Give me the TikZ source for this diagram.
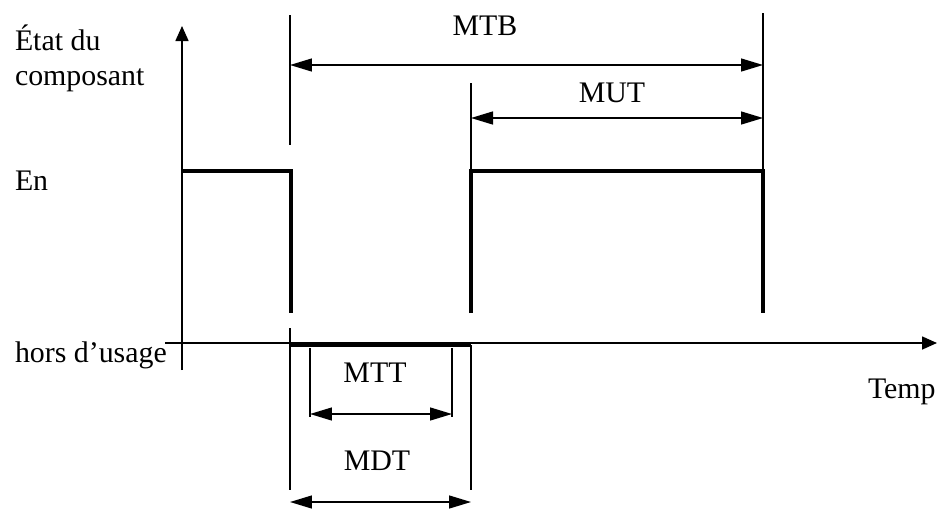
\documentclass[tikz,border=0pt]{standalone}
\usepackage{fontspec}
\setmainfont{Liberation Serif}
\usetikzlibrary{arrows.meta,positioning,calc}

\begin{document}
\begin{tikzpicture}[x=0.02cm, y=-0.02cm, font=\fontsize{17}{20}\selectfont,
  axis/.style={line width=0.9pt, -{Triangle[length=3mm,width=2.6mm]}},
  signal/.style={line width=2.6pt, line join=miter},
  guide/.style={line width=0.8pt},
  span/.style={line width=0.8pt, {Triangle[length=4.4mm,width=2.6mm]}-{Triangle[length=4.4mm,width=2.6mm]}},
  lbl/.style={inner sep=0pt, outer sep=0pt}]
\useasboundingbox (0,0) rectangle (937,508);
% axes
\coordinate (ybot) at (182,370);
\coordinate (ytop) at (182,26);
\coordinate (xleft) at (165,343);
\coordinate (xright) at (937,343);
\draw[axis] (ybot) -- (ytop);
\draw[axis] (xleft) -- (xright);
% state of the component
\coordinate (up0)  at (182,171);
\coordinate (fall) at (291,171);
\coordinate (fallend) at (291,313);
\coordinate (down0) at (291,345);
\coordinate (down1) at (471,345);
\coordinate (risebot) at (471,313);
\coordinate (rise) at (471,171);
\coordinate (fall2) at (763,171);
\coordinate (fall2end) at (763,313);
\draw[signal] (up0) -- (fall) -- (fallend);
\draw[signal] (down0) -- (down1);
\draw[signal] (risebot) -- (rise) -- (fall2) -- (fall2end);
% guide lines
\coordinate (gA1) at (290,15);   \coordinate (gA2) at (290,145);
\coordinate (gA3) at (290,328);  \coordinate (gA4) at (290,490);
\coordinate (gB1) at (471,83);   \coordinate (gB2) at (471,490);
\coordinate (gC1) at (763,13);
\coordinate (gD1) at (310,348);  \coordinate (gD2) at (310,417);
\coordinate (gE1) at (452,348);  \coordinate (gE2) at (452,417);
\draw[guide] (gA1) -- (gA2);
\draw[guide] (gA3) -- (gA4);
\draw[guide] (gB1) -- (rise);
\draw[guide] (down1) -- (gB2);
\draw[guide] (gC1) -- (fall2);
\draw[guide] (gD1) -- (gD2);
\draw[guide] (gE1) -- (gE2);
% durations
\draw[span] (290,65) -- (763,65);
\draw[span] (471,118) -- (763,118);
\draw[span] (310,414) -- (452,414);
\draw[span] (290,502) -- (471,502);
\node[lbl, anchor=base] (mtb) at (485,35) {MTB};
\node[lbl, anchor=base] (mut) at (612,102) {MUT};
\node[lbl, anchor=base] (mtt) at (375,382) {MTT};
\node[lbl, anchor=base] (mdt) at (377,470) {MDT};
% axis labels
\node[lbl, anchor=base west] (etat) at (15,50) {État du};
\node[lbl, anchor=base west] (comp) at (15,85) {composant};
\node[lbl, anchor=base west] (en) at (15,190) {En};
\node[lbl, anchor=base west] (hors) at (15,362) {hors d’usage};
\node[lbl, anchor=base west] (temp) at (868,398) {Temp};
\end{tikzpicture}
\end{document}
